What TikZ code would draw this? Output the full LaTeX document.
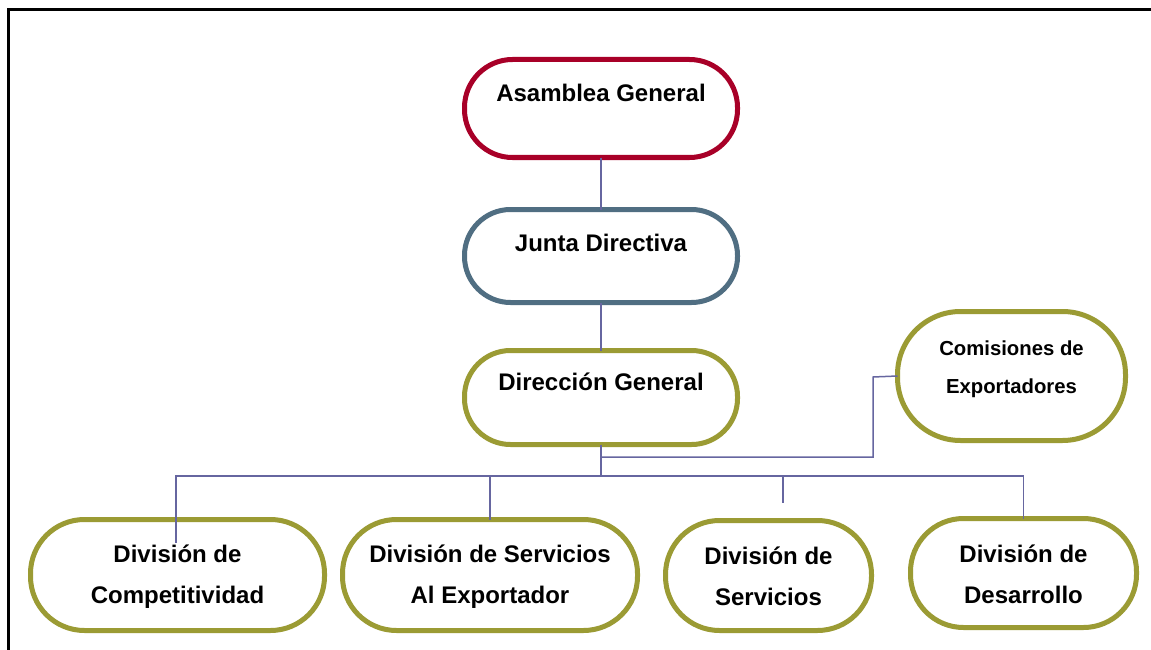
\documentclass[tikz,border=0pt]{standalone}
\usepackage{fontspec}
\setmainfont{Liberation Sans}
\definecolor{agred}{RGB}{168,0,40}
\definecolor{jdblue}{RGB}{80,110,130}
\definecolor{olivebox}{RGB}{155,155,52}
\definecolor{linkc}{RGB}{102,102,160}
\begin{document}
\begin{tikzpicture}[x=1pt,y=-1pt,
  box/.style={rectangle, draw, line width=5pt, fill=white, inner sep=0pt, outer sep=0pt},
  lbl/.style={font=\bfseries\fontsize{24}{41}\selectfont, align=center, anchor=base, inner sep=0pt},
  lblsmall/.style={font=\bfseries\fontsize{20.3}{38}\selectfont, align=center, anchor=base, inner sep=0pt},
  link/.style={draw=linkc, line width=1.5pt}]
\clip (0,0) rectangle (1151,650);
\fill[white] (0,0) rectangle (1151,650);
% frame
\draw[line width=3pt] (8.5,700) -- (8.5,9.5) -- (1200,9.5);
% boxes
\node[box, draw=agred, minimum width=273pt, minimum height=98pt, rounded corners=48pt] (ag) at (601,108.5) {};
\node[lbl] (agt) at (601,101.7) {Asamblea General};
\node[box, draw=jdblue, minimum width=273pt, minimum height=93pt, rounded corners=46pt] (jd) at (601,256) {};
\node[lbl] (jdt) at (601,251) {Junta Directiva};
\node[box, draw=olivebox, minimum width=273pt, minimum height=94pt, rounded corners=46pt] (dg) at (601,397.5) {};
\node[lbl] (dgt) at (601,390.5) {Dirección General};
\node[box, draw=olivebox, minimum width=228pt, minimum height=129pt, rounded corners=63pt] (ce) at (1011.5,376) {};
\node[lblsmall] (cet) at (1011.5,393) {Comisiones de\\Exportadores};
\node[box, draw=olivebox, minimum width=294pt, minimum height=111pt, rounded corners=54pt] (dc) at (177.5,575) {};
\node[lbl] (dct) at (177.5,603) {División de\\Competitividad};
\node[box, draw=olivebox, minimum width=295pt, minimum height=111pt, rounded corners=54pt] (dsa) at (490,575) {};
\node[lbl] (dsat) at (490,603) {División de Servicios\\Al Exportador};
\node[box, draw=olivebox, minimum width=206pt, minimum height=110pt, rounded corners=54pt] (ds) at (768.5,575.5) {};
\node[lbl] (dst) at (768.5,605) {División de\\Servicios};
\node[box, draw=olivebox, minimum width=226pt, minimum height=109pt, rounded corners=53pt] (dd) at (1023.5,573) {};
\node[lbl] (ddt) at (1023.5,603) {División de\\Desarrollo};
% connectors
\coordinate (j1) at (601,476);
\coordinate (j2) at (601,457);
\coordinate (k) at (873,377);
\coordinate (e1) at (176,543);
\coordinate (e3) at (783,503);
\draw[link] (ag.south) -- (jd.north);
\draw[link] (jd.south) -- (dg.north);
\draw[link] (dg.south) -- (j1);
\draw[link] (j1) -| (e1);
\draw[link] (j1) -| (dsa.north);
\draw[link] (j1) -| (e3);
\draw[link] (j1) -| (dd.north);
\draw[link] (j2) -| (k) -- (ce.west);
\end{tikzpicture}
\end{document}
